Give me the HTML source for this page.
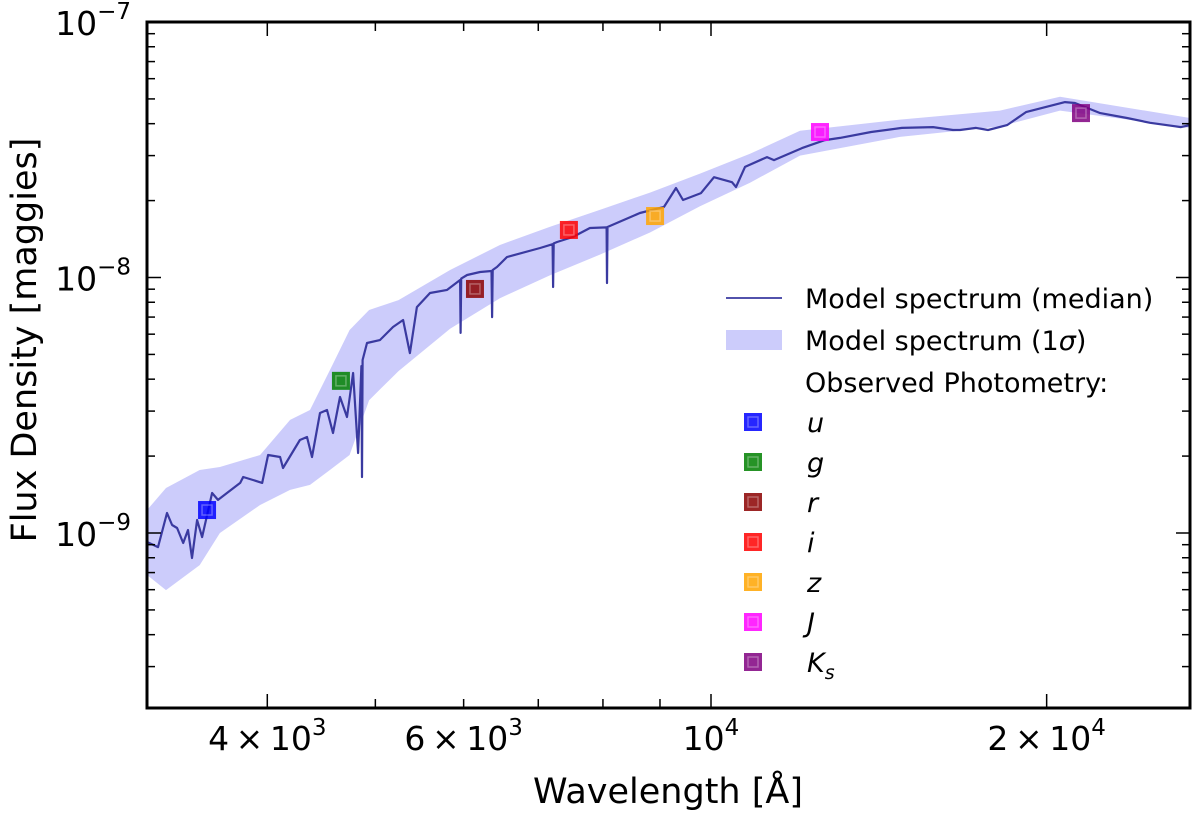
<!DOCTYPE html>
<html><head><meta charset="utf-8"><style>
body{margin:0;background:#fff}
svg{display:block;font-family:"DejaVu Sans","Liberation Sans",sans-serif}
</style></head><body>
<svg id="chart" width="1200" height="813" viewBox="0 0 1200 813"></svg>
<script>
// wavelength in Angstrom, flux in units of 1e-9 maggies
const medLam = [3121,3192,3252,3286,3320,3362,3396,3424,3460,3496,3569,3613,3782,3806,3884,3958,4007,4107,4132,4279,4342,4387,4460,4525,4581,4648,4716,4775,4825,4858,4864,4870,4914,5047,5186,5295,5370,5448,5597,5798,5956,5963,5970,6043,6207,6355,6363,6371,6429,6562,7026,7210,7218,7226,7278,7517,7787,8060,8067,8075,8635,9075,9303,9438,9795,10062,10443,10529,10727,11225,11390,12067,12653,13053,13917,14832,15818,16482,16722,17288,17718,18430,19167,20773,21207,22337,23611,24761,26393,26893];
const medFlux = [0.922,0.881,1.198,1.075,1.046,0.914,1.027,0.798,1.124,0.964,1.434,1.347,1.570,1.656,1.612,1.570,2.019,1.983,1.796,2.312,2.375,1.983,2.950,3.031,2.462,3.405,2.844,4.229,2.056,4.5,1.656,4.754,5.54,5.69,6.40,6.82,5.06,7.66,8.70,8.94,9.78,6.07,9.9,10.23,10.51,10.6,7.00,10.7,11.0,12.03,13.04,13.5,9.18,13.6,13.77,14.40,15.62,15.7,9.52,15.76,17.88,18.9,22.4,20.1,21.4,24.7,23.6,22.6,27.1,29.6,28.8,32.1,34.5,35.2,37.1,38.5,38.8,37.8,37.8,38.5,37.8,39.5,44.4,48.6,48.2,44.0,42.1,40.3,38.8,39.5];
const bandLam = [3121,3245,3479,3627,3941,4193,4369,4552,4741,4936,5245,5835,6467,7173,7954,8817,9775,10839,12017,14771,18161,20559,26893];
const bandUp = [1.230,1.500,1.764,1.813,2.019,2.77,3.03,4.34,6.23,7.46,8.16,10.7,13.4,15.8,18.4,21.5,25.5,30.5,37.5,41.5,45.0,51.0,42.1];
const bandLo = [0.685,0.598,0.749,1.0,1.287,1.474,1.542,1.764,2.019,3.31,4.3,6.3,8.3,10.2,12.3,15.0,19.0,23.5,30.0,35.5,39.0,45.0,38.5];
const photNames = ["u","g","r","i","z","J","Ks"];
const photLam = [3532,4657,6142,7457,8909,12524,21470];
const photFlux = [1.23,3.94,9.02,15.35,17.4,37.1,44.0];
const photColors = ["#0000ff","#008000","#8b0000","#ff0000","#ffa500","#ff00ff","#800080"];
const xMajor = [4000,6000,10000,20000];
const xMajorLabels = [["4","×","10","3"],["6","×","10","3"],["","","10","4"],["2","×","10","4"]];
const xMinor = [5000,7000,8000,9000];
const yMajorExp = [-7,-8,-9];

const NS="http://www.w3.org/2000/svg";
const svg=document.getElementById('chart');
const L=147,R=1190,T=22,B=708;
function xs(l){return 711+1115*Math.log10(l/1e4);}
function ys(f){return 22+255.5*(2-Math.log10(f));} // f in 1e-9
function mk(tag,attrs,parent){const e=document.createElementNS(NS,tag);for(const k in attrs)e.setAttribute(k,attrs[k]);(parent||svg).appendChild(e);return e;}

const defs=mk('defs',{});
const cp=mk('clipPath',{id:'clip'},defs);
mk('rect',{x:L,y:T,width:R-L,height:B-T},cp);
const plot=mk('g',{'clip-path':'url(#clip)'});



let pts=[];
for(let i=0;i<bandLam.length;i++)pts.push(xs(bandLam[i]).toFixed(1)+','+ys(bandUp[i]).toFixed(1));
for(let i=bandLam.length-1;i>=0;i--)pts.push(xs(bandLam[i]).toFixed(1)+','+ys(bandLo[i]).toFixed(1));
const band=mk('polygon',{points:pts.join(' '),fill:'#ccccfb',stroke:'none'},plot);



const mp=medLam.map((l,i)=>xs(l).toFixed(1)+','+ys(medFlux[i]).toFixed(1)).join(' ');
const med=mk('polyline',{points:mp,fill:'none',stroke:'#3a3aa0','stroke-width':2.2,'stroke-linejoin':'round'},plot);



function marker(cx,cy,col,parent){
  const g=mk('g',{},parent);
  mk('rect',{x:cx-9,y:cy-9,width:18,height:18,fill:col,'fill-opacity':0.85},g);
  mk('rect',{x:cx-5,y:cy-5,width:10,height:10,fill:'none',stroke:'#fff','stroke-opacity':0.3,'stroke-width':1.5},g);
  return g;
}
for(let i=0;i<photLam.length;i++){
  const g=marker(xs(photLam[i]),ys(photFlux[i]),photColors[i],plot);
  
  
}

const frame=mk('rect',{x:L,y:T,width:R-L,height:B-T,fill:'none',stroke:'#000','stroke-width':3});



for(let i=0;i<xMajor.length;i++){
  const x=xs(xMajor[i]);
  const len=(xMajor[i]===6000)?9:14;
  mk('line',{x1:x,y1:B,x2:x,y2:B-len,stroke:'#000','stroke-width':1.5});
  mk('line',{x1:x,y1:T,x2:x,y2:T+len,stroke:'#000','stroke-width':1.5});
  const lab=xMajorLabels[i];
  const t=mk('text',{x:x,y:750,'text-anchor':'middle','font-size':33,fill:'#000'});
  
  
  const a=document.createElementNS(NS,'tspan');a.textContent=lab[0]+(lab[1]?'\u2009'+lab[1]+'\u2009':'')+lab[2];t.appendChild(a);
  const s=document.createElementNS(NS,'tspan');s.setAttribute('dy','-15');s.setAttribute('font-size','23');s.textContent=lab[3];t.appendChild(s);
}
for(const v of xMinor){
  const x=xs(v);
  mk('line',{x1:x,y1:B,x2:x,y2:B-9,stroke:'#000','stroke-width':1.5});
  mk('line',{x1:x,y1:T,x2:x,y2:T+9,stroke:'#000','stroke-width':1.5});
}
for(const e of yMajorExp){
  const y=ys(Math.pow(10,e+9));
  mk('line',{x1:L,y1:y,x2:L+14,y2:y,stroke:'#000','stroke-width':1.5});
  mk('line',{x1:R,y1:y,x2:R-14,y2:y,stroke:'#000','stroke-width':1.5});
  const t=mk('text',{x:131,y:y+13,'text-anchor':'end','font-size':33,fill:'#000'});
  
  
  const a=document.createElementNS(NS,'tspan');a.textContent='10';t.appendChild(a);
  const s=document.createElementNS(NS,'tspan');s.setAttribute('dy','-16');s.setAttribute('font-size','23');s.textContent='\u2212'+(-e);t.appendChild(s);
}
for(let d=-10;d<=-8;d++){
  for(let m=2;m<=9;m++){
    const f=m*Math.pow(10,d+9);
    const y=ys(f);
    if(y<T||y>B)continue;
    mk('line',{x1:L,y1:y,x2:L+8,y2:y,stroke:'#000','stroke-width':1.5});
    mk('line',{x1:R,y1:y,x2:R-8,y2:y,stroke:'#000','stroke-width':1.5});
  }
}
const xt=mk('text',{x:668,y:803,'text-anchor':'middle','font-size':35,fill:'#000'});
xt.textContent='Wavelength [Å]';


const yt=mk('text',{x:0,y:0,'text-anchor':'middle','font-size':35,fill:'#000',transform:'translate(36,340) rotate(-90)'});
yt.textContent='Flux Density [maggies]';



const lg=mk('g',{});


mk('line',{x1:726,y1:298,x2:782,y2:298,stroke:'#3a3aa0','stroke-width':1.8},lg);
mk('rect',{x:726,y:330,width:56,height:20,fill:'#ccccfb'},lg);
function ltext(x,y,txt,italic){const t=mk('text',{x:x,y:y,'font-size':27,fill:'#000'},lg);if(italic)t.setAttribute('font-style','italic');t.textContent=txt;return t;}
const e1=ltext(805,308,'Model spectrum (median)');


const e2=ltext(805,350,'Model spectrum (1');
const sg=document.createElementNS(NS,'tspan');sg.setAttribute('font-style','italic');sg.textContent='σ';e2.appendChild(sg);
const sg2=document.createElementNS(NS,'tspan');sg2.textContent=')';e2.appendChild(sg2);


const e3=ltext(805,392,'Observed Photometry:');


for(let i=0;i<photNames.length;i++){
  const y=422+i*40;
  marker(753,y,photColors[i],lg);
  let t;
  if(photNames[i]==='Ks'){
    t=ltext(807,y+10,'K',true);
    const s=document.createElementNS(NS,'tspan');s.setAttribute('dy','7');s.setAttribute('font-size','19');s.textContent='s';t.appendChild(s);
  } else t=ltext(807,y+10,photNames[i],true);
  
  
}
</script>
</body></html>
